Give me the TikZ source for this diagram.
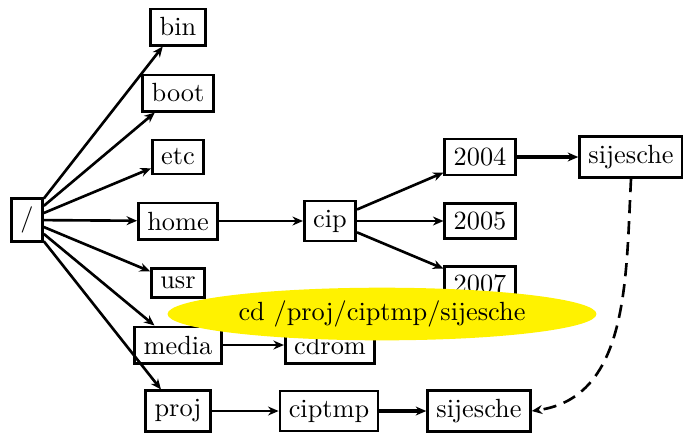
\documentclass[tikz,border=0pt]{standalone}
\usetikzlibrary{arrows.meta,shapes.geometric}
\begin{document}
\begin{tikzpicture}[x=0.38pt,y=-0.38pt,
  box/.style={draw,line width=1.1pt,fill=white},
  conn/.style={line width=1pt,-{Stealth[length=4pt,width=3.4pt,inset=1.3pt]}},
  heavy/.style={conn,line width=1.4pt},
  note/.style={ellipse,fill=yellow,inner sep=0pt,minimum width=163pt,minimum height=20pt}]
\useasboundingbox (0,0) rectangle (683,433);
\node[box] (root) at (27,220) {/};
\node[box] (bin) at (178,27) {bin};
\node[box] (boot) at (178,93) {boot};
\node[box] (etc) at (178,157) {etc};
\node[box] (home) at (178,221) {home};
\node[box] (usr) at (178,283) {usr};
\node[box] (media) at (178,345) {media};
\node[box] (proj) at (178,411) {proj};
\node[box] (cip) at (330,221) {cip};
\node[box] (y2004) at (480,157) {2004};
\node[box] (y2005) at (480,221) {2005};
\node[box] (y2007) at (480,284) {2007};
\node[box] (sijA) at (631,157) {sijesche};
\node[box] (cdrom) at (330,345) {cdrom};
\node[box] (ciptmp) at (329,411) {ciptmp};
\node[box] (sijB) at (479,411) {sijesche};
\foreach \t in {bin,boot,etc,home,usr,media,proj}
  \draw[conn] (root) -- (\t);
\draw[conn] (home) -- (cip);
\draw[conn] (cip) -- (y2004);
\draw[conn] (cip) -- (y2005);
\draw[conn] (cip) -- (y2007);
\draw[heavy] (y2004) -- (sijA);
\draw[conn] (media) -- (cdrom);
\draw[conn] (proj) -- (ciptmp);
\draw[heavy] (ciptmp) -- (sijB);
\draw[conn,dashed,dash pattern=on 5pt off 3pt] (sijA.south) to[out=-93,in=8] (sijB.east);
\node[note] (cmd) at (382,314) {cd /proj/ciptmp/sijesche};
\end{tikzpicture}
\end{document}
